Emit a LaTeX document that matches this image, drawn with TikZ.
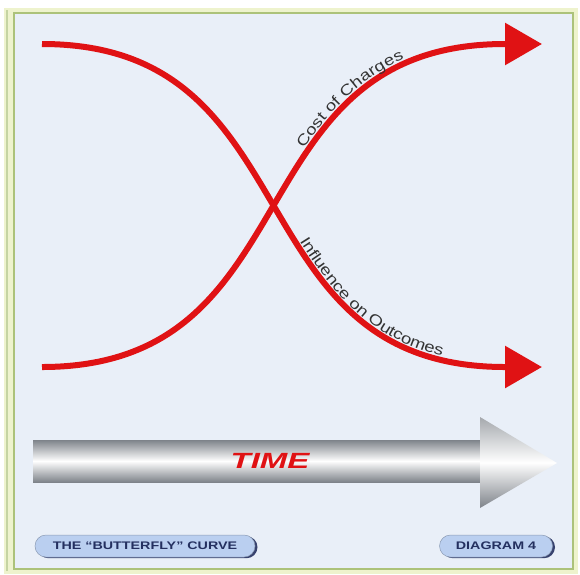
\documentclass[tikz,border=0pt]{standalone}
\usepackage{fontspec}
\setmainfont{Liberation Sans}
\newfontfamily\widefont[FakeStretch=1.24]{Liberation Sans}
\newfontfamily\pillfont[FakeStretch=1.3]{Liberation Sans}
\newfontfamily\timefont[FakeStretch=1.5]{Liberation Sans}
\usetikzlibrary{arrows.meta,decorations.text,shadows,positioning,calc}
\definecolor{curvered}{RGB}{224,18,20}
\definecolor{panelblue}{RGB}{233,239,248}
\definecolor{framegreen}{RGB}{172,194,122}
\definecolor{framepale}{RGB}{238,243,205}
\definecolor{pillblue}{RGB}{186,207,240}
\definecolor{pillnavy}{RGB}{36,48,96}
\definecolor{steel}{RGB}{126,131,138}

\begin{document}
\begin{tikzpicture}[x=1pt, y=-1pt,
  curve/.style={draw=curvered, line width=6pt, -{Triangle[length=37pt,width=41pt]}},
  curvetext/.style 2 args={decorate, decoration={text along path,
      text={|\widefont\fontsize{15}{15}\selectfont|#2}, text color=black!80,
      raise=4pt, text align={left indent=#1}}},
  pill/.style={rounded corners=11pt, minimum height=22pt, inner sep=0pt,
    fill=pillblue, draw=pillblue!75!black, line width=0.5pt,
    drop shadow={shadow xshift=2.5pt, shadow yshift=-1.2pt, fill=pillnavy, opacity=0.9},
    font=\pillfont\fontsize{11}{12}\selectfont\bfseries, text=pillnavy}
]
\useasboundingbox (0,0) rectangle (580,574);
% frame
\fill[white] (0,0) rectangle (580,574);
\fill[framepale] (4,8) rectangle (578,574);
\draw[framegreen!70, line width=1.5pt] (7,10) -- (7,571);
\filldraw[fill=panelblue, draw=framegreen, line width=2.5pt] (14,13) rectangle (573,569);

% the two curves
\coordinate (costStart) at (42,367);
\coordinate (costEnd) at (505,44);
\coordinate (inflStart) at (42,44);
\coordinate (inflEnd) at (505,367);
\draw[curve] (inflStart) .. controls +(273,0) and +(-273,0) .. (inflEnd) -- +(37,0);
\draw[curve] (costStart) .. controls +(273,0) and +(-273,0) .. (costEnd) -- +(37,0);
\path[curvetext={364pt}{Cost of Charges}]
  (costStart) .. controls +(273,0) and +(-273,0) .. (costEnd);
\path[curvetext={344pt}{Influence on Outcomes}]
  (inflStart) .. controls +(273,0) and +(-273,0) .. (inflEnd);

% time arrow
\shade[top color=steel, bottom color=steel, middle color=white] (33,440) rectangle (481,482);
\shade[top color=steel!70, bottom color=steel, middle color=white] (480,417) -- (557,463) -- (480,508) -- cycle;
\node[font=\timefont\fontsize{22}{22}\selectfont\bfseries\itshape, text=curvered] (timeLabel) at (270,461) {TIME};

% captions
\node[pill, minimum width=220pt] (titlePill) at (145,546) {THE “BUTTERFLY” CURVE};
\node[pill, minimum width=113pt] (diagramPill) at (496,546) {DIAGRAM 4};
\end{tikzpicture}
\end{document}
